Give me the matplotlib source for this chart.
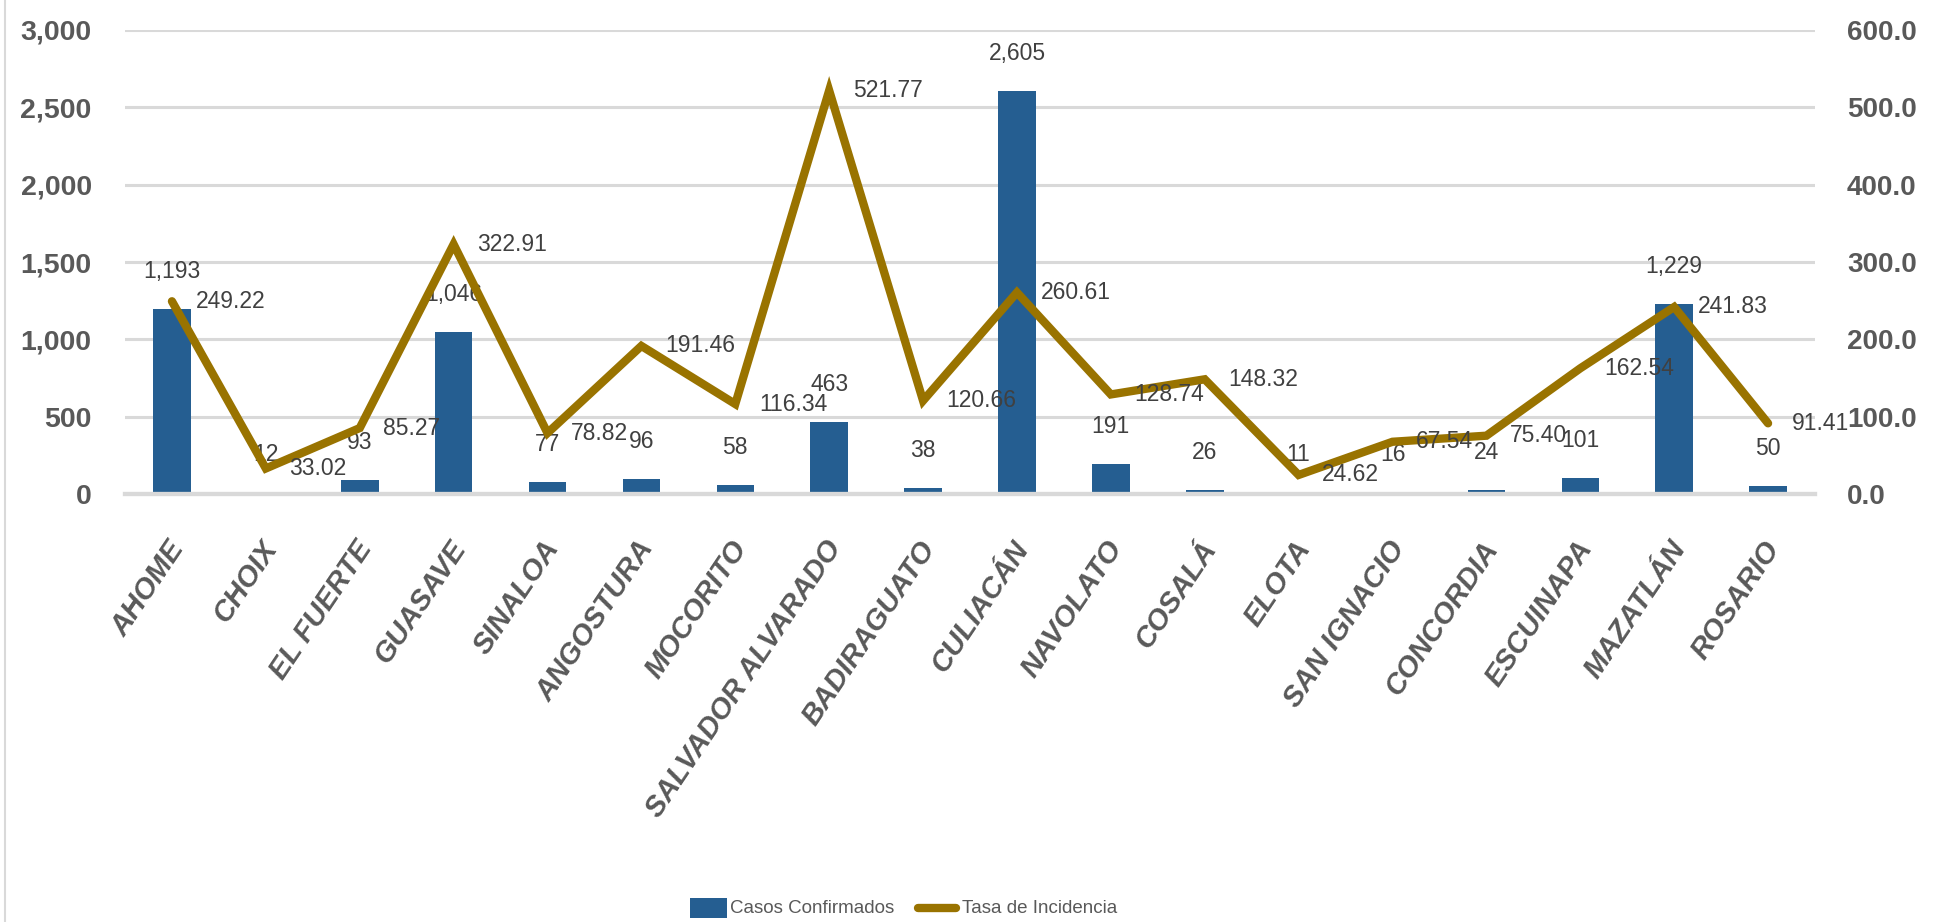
import matplotlib
matplotlib.use("Agg")
import matplotlib.pyplot as plt
from matplotlib.lines import Line2D
from matplotlib.patches import Rectangle
import numpy as np

categories = ["AHOME", "CHOIX", "EL FUERTE", "GUASAVE", "SINALOA", "ANGOSTURA",
              "MOCORITO", "SALVADOR ALVARADO", "BADIRAGUATO", "CULIACÁN", "NAVOLATO",
              "COSALÁ", "ELOTA", "SAN IGNACIO", "CONCORDIA", "ESCUINAPA", "MAZATLÁN", "ROSARIO"]
casos = [1193, 12, 93, 1046, 77, 96, 58, 463, 38, 2605, 191, 26, 11, 16, 24, 101, 1229, 50]
tasa = [249.22, 33.02, 85.27, 322.91, 78.82, 191.46, 116.34, 521.77, 120.66, 260.61,
        128.74, 148.32, 24.62, 67.54, 75.40, 162.54, 241.83, 91.41]
left_ticks = [0, 500, 1000, 1500, 2000, 2500, 3000]
right_ticks = [0, 100, 200, 300, 400, 500, 600]

FONT = ["Liberation Sans", "DejaVu Sans"]
plt.rcParams["font.family"] = FONT

BAR = "#255E91"
LINE = "#997300"
GRID = "#D9D9D9"
TICK = "#595959"
LAB = "#404040"

W, H = 1944, 922
fig = plt.figure(figsize=(W / 100, H / 100), dpi=100)
ax = fig.add_axes([125 / W, 1 - 494 / H, (1815 - 125) / W, (494 - 30) / H])
ax2 = ax.twinx()

x = np.arange(len(categories))
ax.bar(x, casos, width=0.4, color=BAR, zorder=2)
ax.set_xlim(-0.5, len(categories) - 0.5)
ax.set_ylim(0, 3000)
ax.set_yticks(left_ticks)
ax.set_yticklabels([f"{v:,}" for v in left_ticks])
ax.yaxis.grid(True, color=GRID, linewidth=2.2, zorder=0)
ax.set_axisbelow(True)

ax2.plot(x, tasa, color=LINE, linewidth=6, solid_joinstyle="miter", solid_capstyle="round", zorder=3)
ax2.set_ylim(0, 600)
ax2.set_yticks(right_ticks)
ax2.set_yticklabels([f"{v:.1f}" for v in right_ticks])

for a in (ax, ax2):
    for s in ("left", "right", "top"):
        a.spines[s].set_visible(False)
    a.spines["bottom"].set_color(GRID)
    a.spines["bottom"].set_linewidth(3)
    a.tick_params(axis="both", length=0)

for lab in ax.get_yticklabels():
    lab.set_fontsize(20.5); lab.set_fontweight("bold"); lab.set_color(TICK)
for lab in ax2.get_yticklabels():
    lab.set_fontsize(20); lab.set_fontweight("bold"); lab.set_color(TICK)
ax.tick_params(axis="y", pad=24)
ax2.tick_params(axis="y", pad=23)

ax.set_xticks(x)
ax.set_xticklabels([])
for xi, name in zip(x, categories):
    ax.annotate(name, xy=(xi, 0), xycoords=("data", "axes fraction"),
                xytext=(-4, -30), textcoords="offset points",
                rotation=56, rotation_mode="anchor", ha="right", va="top",
                fontsize=21, fontweight="bold", fontstyle="italic", color=TICK)

# data labels
for xi, v in zip(x, casos):
    ax.annotate(f"{v:,}", xy=(xi, v), xytext=(0, 27), textcoords="offset points",
                ha="center", va="center", fontsize=16.5, color=LAB, zorder=5)
for xi, v in zip(x, tasa):
    ax2.annotate(f"{v:.2f}", xy=(xi, v), xytext=(17, 0), textcoords="offset points",
                 ha="left", va="center", fontsize=16.5, color=LAB, zorder=5)

# left border of chart area
fig.add_artist(Line2D([5 / W, 5 / W], [0, 1], transform=fig.transFigure, color=GRID, linewidth=1.5))

# legend
ly = 1 - 908 / H
fig.add_artist(Rectangle((690 / W, 1 - 918 / H), 37 / W, 20 / H, transform=fig.transFigure,
                         facecolor=BAR, edgecolor="none"))
fig.text(730 / W, ly, "Casos Confirmados", ha="left", va="center", fontsize=13.5,
         color=TICK)
fig.add_artist(Line2D([918 / W, 956 / W], [ly, ly], transform=fig.transFigure,
                      color=LINE, linewidth=6, solid_capstyle="round"))
fig.text(962 / W, ly, "Tasa de Incidencia", ha="left", va="center", fontsize=13.5,
         color=TICK)

fig.savefig("out.png", dpi=100)
